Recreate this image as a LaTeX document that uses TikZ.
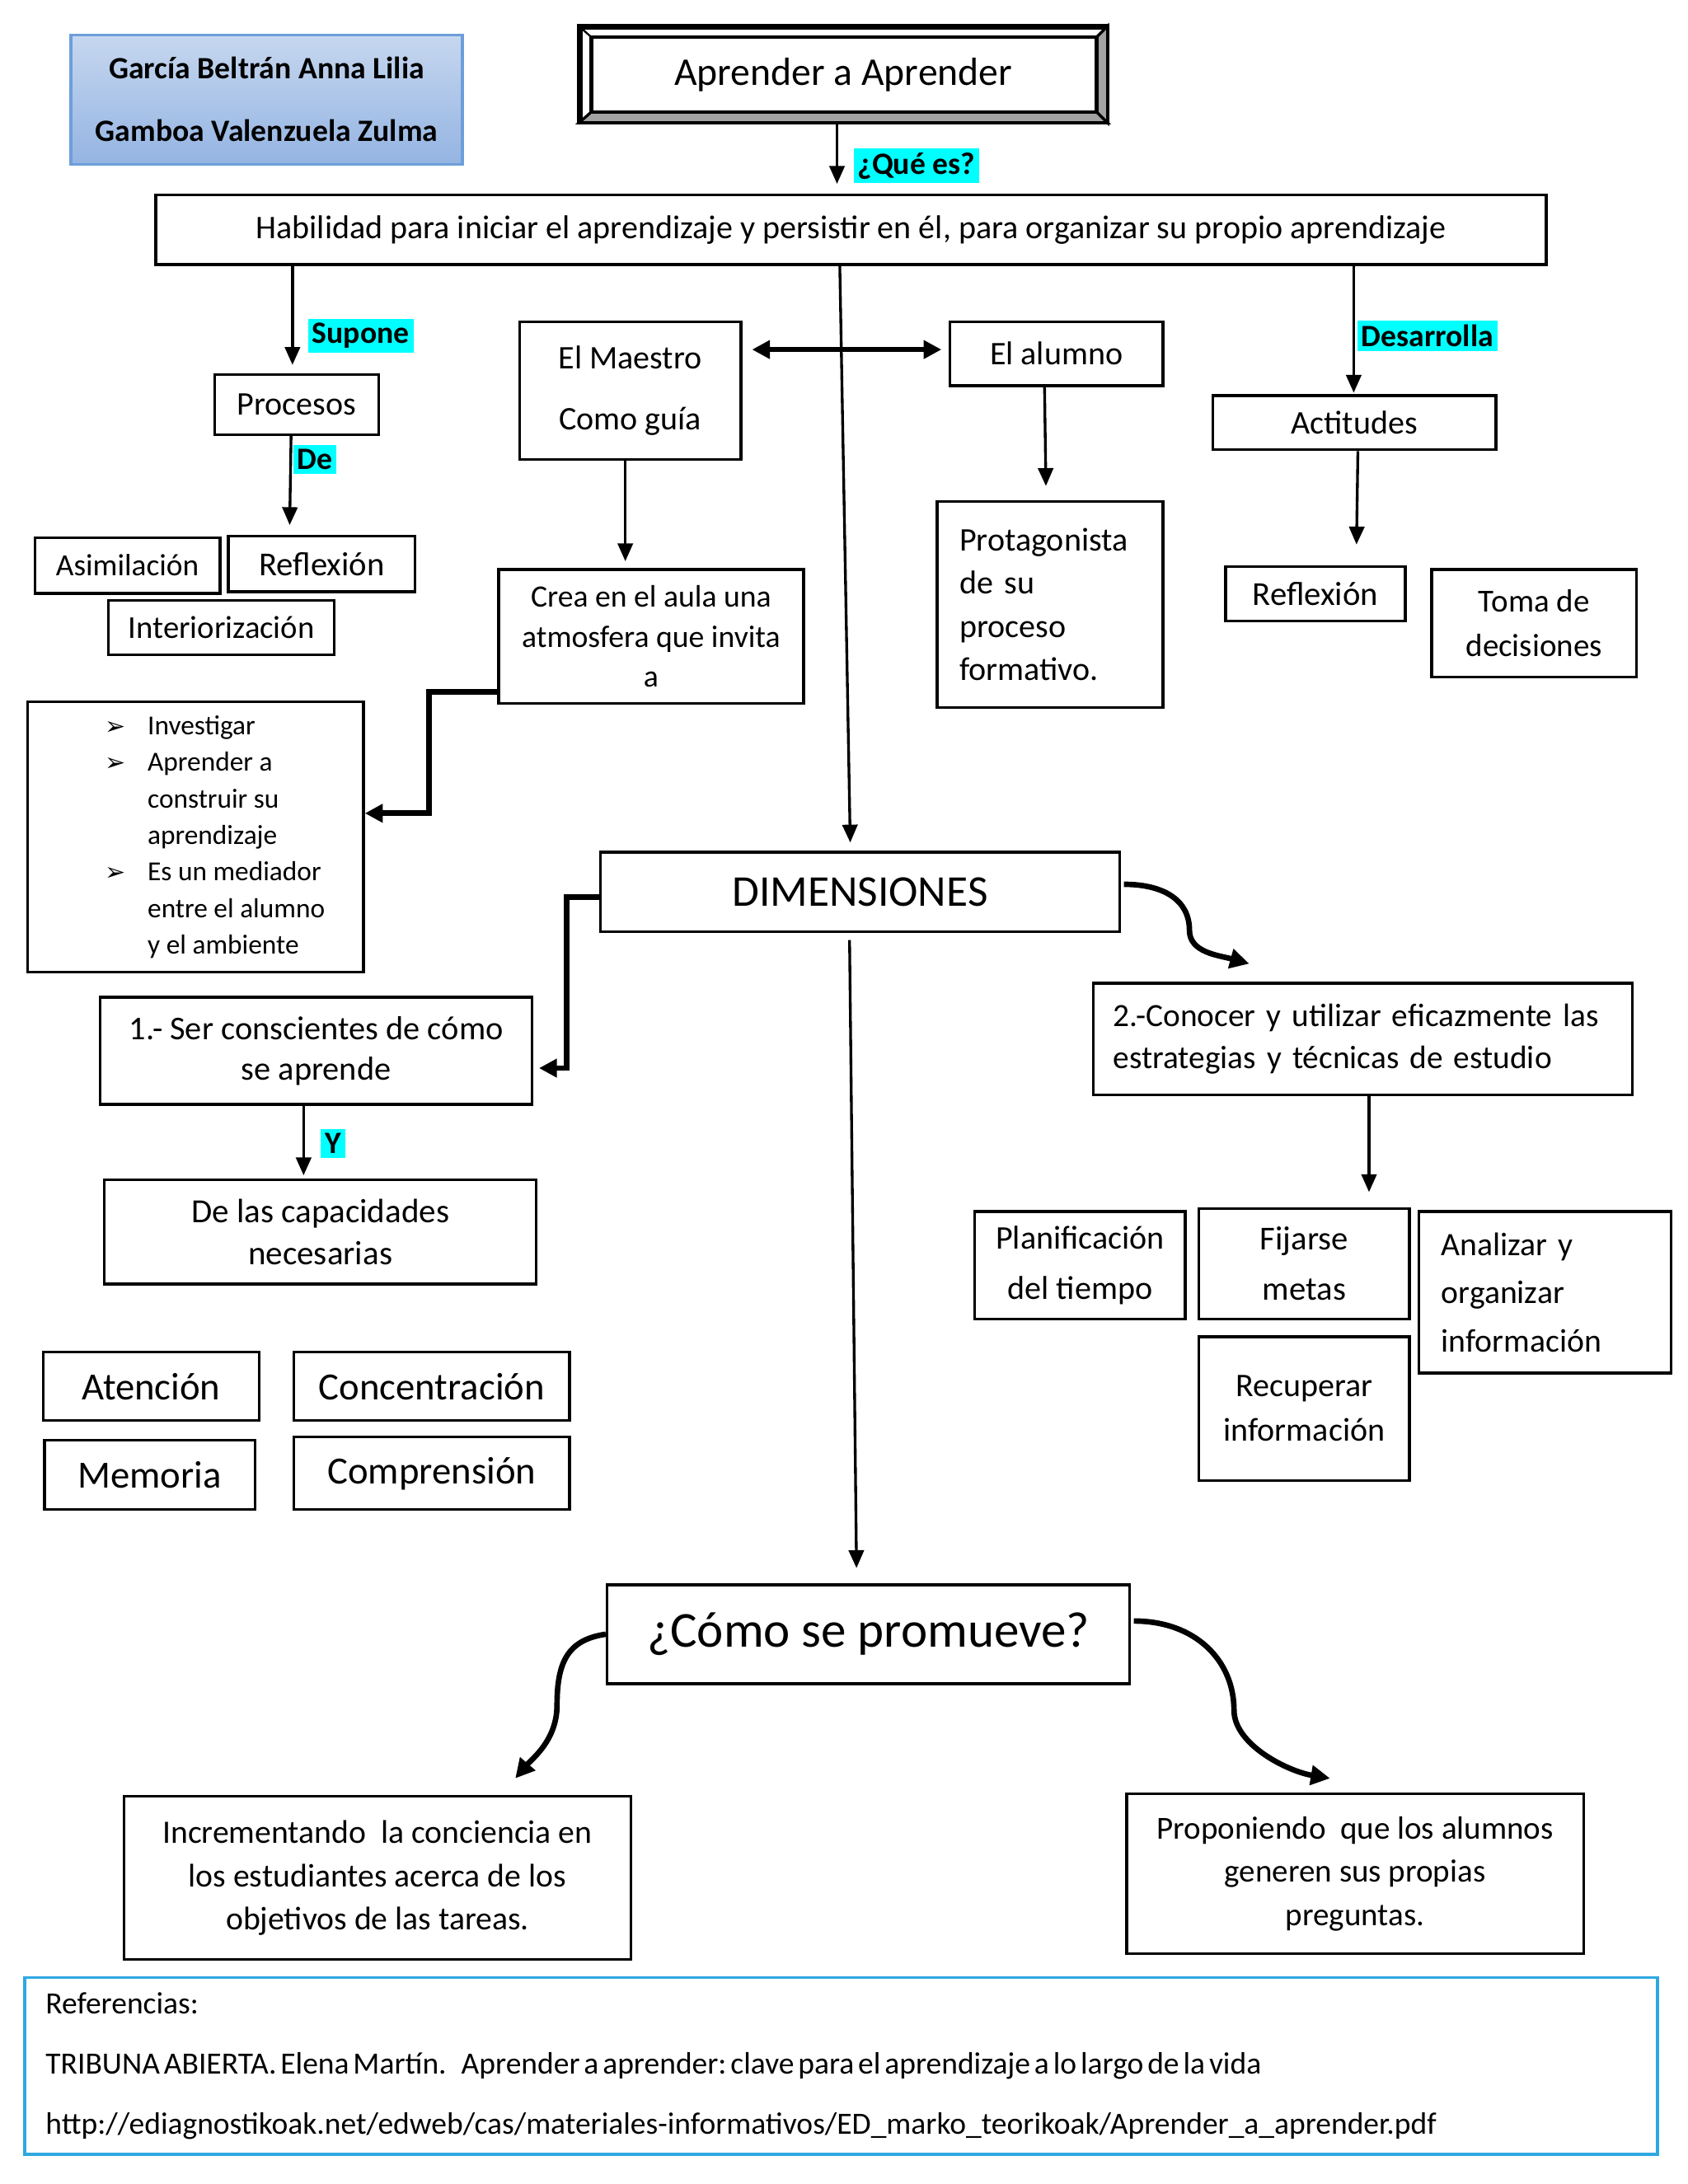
\documentclass[tikz,border=0pt]{standalone}
\usepackage{fontspec}
\setmainfont{Carlito}
\newfontfamily\simbolos{DejaVu Sans}
\usetikzlibrary{arrows.meta,calc}
\newcommand{\upx}{0.50682pt}
\newcommand{\tam}[2]{\fontsize{#1}{#2}\selectfont}
\definecolor{azulautor}{HTML}{6D9EDA}
\definecolor{azularriba}{HTML}{C6D7EF}
\definecolor{azulabajo}{HTML}{94B4E2}
\definecolor{azulref}{HTML}{2EA8E0}
\definecolor{bisel}{HTML}{A3A3A3}
\definecolor{resalte}{RGB}{0,255,255}

\begin{document}
\begin{tikzpicture}[x=0.017813cm,y=-0.017813cm,
	caja/.style 2 args={draw,line width=1pt,minimum width=#1*\upx,minimum height=#2*\upx,inner sep=0pt,align=center,font=\tam{12}{15}},
	izq/.style={align=left,text width=#1*\upx},
	etiq/.style={fill=resalte,font=\bfseries\tam{11.3}{13},inner sep=1.5pt},
	flecha/.style={line width=1pt,-{Triangle[length=6.5pt,width=5.5pt]}},
	doble/.style={line width=2pt,{Triangle[length=6.5pt,width=6.5pt]}-{Triangle[length=6.5pt,width=6.5pt]}},
	codo/.style={line width=2pt,-{Triangle[length=6.5pt,width=6.5pt]}},
	curva/.style={line width=2pt,-{Triangle[length=7pt,width=7pt]}}]
	\useasboundingbox (0,0) rectangle (1212,1568.3);
	
	% Autoras
	\node[caja={281}{93},draw=azulautor,top color=azularriba,bottom color=azulabajo,font=\bfseries\tam{11.3}{22.8}] (autores) at (191.5,71.5) {García Beltrán Anna Lilia\\Gamboa Valenzuela Zulma};
	
	% Titulo con bisel
	\node[caja={377}{67},line width=1.3pt,font=\tam{14.3}{17}] (titulo) at (605.5,53.5) {Aprender a Aprender};
	\coordinate (ti-a) at ($(titulo.north west)+(9,8)$);
	\coordinate (ti-b) at ($(titulo.north east)+(-8,8)$);
	\coordinate (ti-c) at ($(titulo.south east)+(-8,-8)$);
	\coordinate (ti-d) at ($(titulo.south west)+(9,-8)$);
	\filldraw[fill=bisel,line width=1pt] (titulo.south west) -- (titulo.south east) -- (ti-c) -- (ti-d) -- cycle;
	\filldraw[fill=bisel,line width=1pt] (titulo.south east) -- (titulo.north east) -- (ti-b) -- (ti-c) -- cycle;
	\draw[line width=1.3pt] (ti-a) rectangle (ti-c);
	\draw[line width=0.7pt] (titulo.north west) -- (ti-a) (titulo.north east) -- (ti-b) (titulo.south west) -- (ti-d);
	\draw[line width=1.3pt] (titulo.north west) rectangle (titulo.south east);
	
	% Definicion
	\node[caja={998}{50}] (habil) at (611,165) {Habilidad para iniciar el aprendizaje y persistir en él, para organizar su propio aprendizaje};
	\node[etiq] (quees) at (658,119) {¿Qué es?};
	
	% Rama izquierda
	\node[caja={118}{43}] (procesos) at (213,290.5) {Procesos};
	\node[etiq] (supone) at (259,241) {Supone};
	\node[etiq] (de) at (226,330) {De};
	\node[caja={133}{40},font=\tam{11.2}{14}] (asim) at (91.5,406) {Asimilación};
	\node[caja={134}{40},font=\tam{12.2}{15}] (refl1) at (231,405) {Reflexión};
	\node[caja={162}{39},font=\tam{11.6}{14}] (interior) at (159,450.5) {Interiorización};
	
	% Maestro y alumno
	\node[caja={159}{99},font=\tam{12}{22.3}] (maestro) at (452.5,280.5) {El Maestro\\Como guía};
	\node[caja={153}{46}] (alumno) at (758.5,254) {El alumno};
	\node[caja={219}{96},font=\tam{11.3}{14.5}] (crea) at (467.5,457) {Crea en el aula una\\atmosfera que invita\\a};
	\node[caja={241}{194},font=\tam{10}{13.3}] (lista) at (140.5,601) {%
		\begin{tabular}{@{\hspace{14pt}}c@{\hspace{8pt}}l@{}}
			{\simbolos\tam{9}{13.3}➢} & Investigar\\
			{\simbolos\tam{9}{13.3}➢} & Aprender a\\
			& construir su\\
			& aprendizaje\\
			{\simbolos\tam{9}{13.3}➢} & Es un mediador\\
			& entre el alumno\\
			& y el ambiente
	\end{tabular}};
	\node[caja={162}{148},izq=130,font=\tam{12}{15.7}] (protag) at (754,434) {Protagonista\\de su\\proceso\\formativo.};
	
	% Rama derecha
	\node[etiq] (desarrolla) at (1025,241) {Desarrolla};
	\node[caja={203}{39}] (actitudes) at (972.5,303.5) {Actitudes};
	\node[caja={129}{39},font=\tam{12.2}{15}] (refl2) at (944.5,426.5) {Reflexión};
	\node[caja={147}{77},font=\tam{11.7}{16.2}] (toma) at (1101.5,447.5) {Toma de\\decisiones};
	
	% Dimensiones
	\node[caja={373}{57},font=\tam{16}{19}] (dimen) at (617.5,640.5) {DIMENSIONES};
	\node[caja={310}{77},font=\tam{12.1}{14.7}] (dim1) at (227,754.5) {1.- Ser conscientes de cómo\\se aprende};
	\node[etiq] (ye) at (239,821) {Y};
	\node[caja={310}{75},font=\tam{12.3}{15.2}] (capac) at (230,884.5) {De las capacidades\\necesarias};
	\node[caja={155}{49},font=\tam{14}{17}] (atencion) at (108.5,995.5) {Atención};
	\node[caja={198}{49},font=\tam{14}{17}] (concen) at (310,995.5) {Concentración};
	\node[caja={151}{50},font=\tam{14}{17}] (memoria) at (107.5,1059) {Memoria};
	\node[caja={198}{52},font=\tam{14}{17}] (compren) at (310,1058) {Comprensión};
	
	\node[caja={387}{80},izq=358,font=\tam{11.8}{15.2}] (dim2) at (978.5,746) {2.-Conocer y utilizar eficazmente las\\estrategias y técnicas de estudio};
	\node[caja={151}{77},font=\tam{12}{18.2}] (planif) at (775.5,908.5) {Planificación\\del tiempo};
	\node[caja={151}{79},font=\tam{12.2}{18.2}] (fijar) at (936.5,907.5) {Fijarse\\metas};
	\node[caja={181}{116},izq=149,font=\tam{11.9}{17.5}] (analizar) at (1109.5,928) {Analizar y\\organizar\\información};
	\node[caja={151}{103},font=\tam{12}{16.2}] (recup) at (936.5,1011.5) {Recuperar\\información};
	
	% Como se promueve
	\node[caja={375}{71},font=\tam{18.3}{22}] (como) at (623.5,1173.5) {¿Cómo se promueve?};
	\node[caja={364}{117},font=\tam{11.9}{15.7}] (increm) at (271,1348.5) {Incrementando\ \ la conciencia en\\los estudiantes acerca de los\\objetivos de las tareas.};
	\node[caja={328}{115},font=\tam{11.7}{15.7}] (propon) at (973,1345.5) {Proponiendo\ \ que los alumnos\\generen sus propias\\preguntas.};
	
	% Referencias
	\node[caja={1172}{127},izq=1142,draw=azulref,font=\tam{11.25}{21.8}] (refs) at (604,1483.5) {Referencias:\\{\frenchspacing\spaceskip=0.13em TRIBUNA ABIERTA. Elena Martín.\hspace{0.35em}\ Aprender a aprender: clave para el aprendizaje a lo largo de la vida}\\http://ediagnostikoak.net/edweb/cas/materiales-informativos/ED\_marko\_teorikoak/Aprender\_a\_aprender.pdf};
	
	% Conectores
	\draw[flecha] ($(titulo.south)+(-4.5,0)$) -- ($(habil.north)+(-10,-7)$);
	\draw[flecha] ($(habil.south)+(-401,0)$) -- ($(procesos.north)+(-3,-6)$);
	\draw[flecha] ($(procesos.south)+(-4,0)$) -- ($(refl1.north)+(-23,-7)$);
	\draw[doble] ($(maestro.east)+(7,-29.5)$) -- ($(alumno.west)+(-5,-3)$);
	\draw[flecha] ($(habil.south)+(-8,0)$) -- ($(dimen.north)+(-7,-6)$);
	\draw[flecha] ($(maestro.south)+(-3.5,0)$) -- ($(crea.north)+(-18.5,-5)$);
	\draw[codo] ($(crea.south west)+(0,-9)$) -- ++(-49,0) |- ($(lista.east)+(0,-17)$);
	\draw[flecha] ($(alumno.south)+(-8.5,0)$) -- ($(protag.north)+(-3,-10)$);
	\draw[flecha] ($(habil.south)+(361,0)$) -- ($(actitudes.north)+(-0.5,-1)$);
	\draw[flecha] ($(actitudes.south)+(2.5,0)$) -- ($(refl2.north)+(29.5,-15)$);
	\draw[codo] ($(dimen.west)+(0,3.5)$) -- ++(-23,0) |- ($(dim1.east)+(4,12.5)$);
	\draw[flecha] ($(dim1.south)+(-9,0)$) -- ($(capac.north)+(-12,-2)$);
	\draw[curva] ($(dimen.east)+(2,-5.5)$) .. controls +(28,0) and +(0,-22) .. ++(47,33) .. controls +(0,16) and +(-22,-6) .. ($(dim2.north)+(-81.5,-13)$);
	\draw[flecha] ($(dim2.south)+(4.5,0)$) -- ($(fijar.north)+(46.5,-11)$);
	\draw[flecha] ($(dimen.south)+(-7.5,5)$) -- ($(como.north)+(-8.5,-11)$);
	\draw[curva] (como.west) .. controls +(-28,4) and +(0,-30) .. ++(-35,51) .. controls +(0,25) and +(12,-14) .. ($(increm.north)+(99,-12)$);
	\draw[curva] ($(como.east)+(2,-9.5)$) .. controls +(45,0) and +(0,-35) .. ++(72,64) .. controls +(0,25) and +(-30,-5) .. ($(propon.north)+(-18,-10)$);
	
\end{tikzpicture}
\end{document}
